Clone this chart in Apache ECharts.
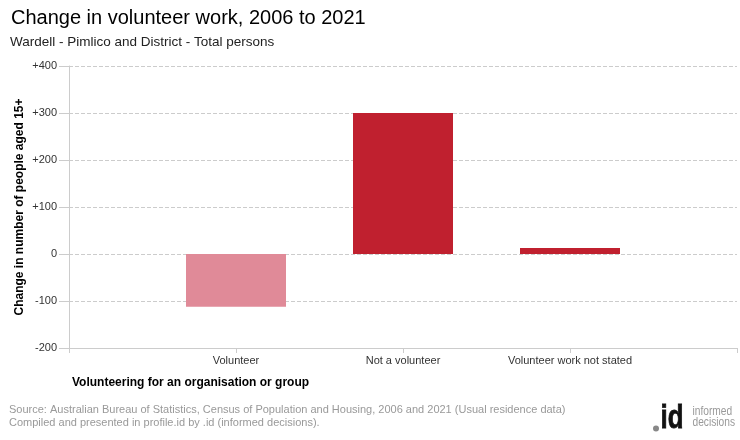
<!DOCTYPE html>
<html lang="en">
<head>
    <meta charset="UTF-8">
    <script src="https://cdn.jsdelivr.net/npm/echarts@6/dist/echarts.min.js"></script>
    <title>Change in volunteer work</title>
</head>
<body style="margin:0">
<div id="main" style="width: 740px;height:440px;"></div>

<script type="text/javascript">
    // categories (blank ends give the empty space either side, like the original)
    var categories = ['', 'Volunteer', 'Not a volunteer', 'Volunteer work not stated', ''];
    var changeValues = [null, -112, 300, 13, null];
    var barColors = ['#c0202f', '#e08a98', '#c0202f', '#c0202f', '#c0202f'];

    var myChart = echarts.init(document.getElementById('main'));
    var font = '"Liberation Sans", Arial, sans-serif';

    var option = {
        backgroundColor: '#fff',
        animation: false,
        textStyle: { fontFamily: font },
        title: [{
            text: 'Change in volunteer work, 2006 to 2021',
            left: 6, top: 3,
            textStyle: { fontSize: 20, fontWeight: 'normal', color: '#000', fontFamily: font }
        }, {
            text: 'Wardell - Pimlico and District - Total persons',
            left: 5, top: 30,
            textStyle: { fontSize: 13.5, fontWeight: 'normal', color: '#222', fontFamily: font }
        }],
        grid: { left: 69, right: 2, top: 66, bottom: 92 },
        xAxis: {
            type: 'category',
            data: categories,
            boundaryGap: false,
            axisLine: { onZero: false, lineStyle: { color: '#ccc' } },
            axisTick: { show: true, length: 5, lineStyle: { color: '#ccc' } },
            axisLabel: { fontSize: 11, color: '#333', margin: 7, fontFamily: font },
            splitLine: { show: false }
        },
        yAxis: {
            type: 'value',
            min: -200, max: 400, interval: 100,
            name: 'Change in number of people aged 15+',
            nameLocation: 'middle',
            nameGap: 43,
            nameMoveOverlap: false,
            nameRotate: 90,
            nameTextStyle: { fontSize: 12, fontWeight: 'bold', color: '#000', fontFamily: font },
            axisLine: { show: true, lineStyle: { color: '#ccc' } },
            axisTick: { show: true, length: 10, lineStyle: { color: '#ccc' } },
            axisLabel: {
                fontSize: 11, color: '#333', margin: 12, fontFamily: font,
                formatter: function (v) { return v > 0 ? '+' + v : String(v); }
            },
            splitLine: { lineStyle: { color: '#ccc', type: 'dashed' } }
        },
        series: [{
            type: 'bar',
            barWidth: 100,
            data: changeValues.map(function (v, i) {
                return { value: v, itemStyle: { color: barColors[i] } };
            })
        }],
        graphic: [{
            type: 'text', left: 72, top: 377,
            style: { text: 'Volunteering for an organisation or group', font: 'bold 12px ' + font, fill: '#000' }
        }, {
            type: 'text', left: 9, top: 403,
            style: {
                text: 'Source: Australian Bureau of Statistics, Census of Population and Housing, 2006 and 2021 (Usual residence data)\nCompiled and presented in profile.id by .id (informed decisions).',
                font: '11px ' + font, fill: '#999', lineHeight: 13
            }
        }, {
            // .id logo
            type: 'group', left: 653, top: 401,
            children: [{
                type: 'circle', shape: { cx: 3.5, cy: 27, r: 3 }, style: { fill: '#888' }
            }, {
                type: 'text', x: 8, y: 0, scaleX: 0.76,
                style: { text: 'id', font: 'bold 34px ' + font, fill: '#111', stroke: '#111', lineWidth: 0.8 }
            }, {
                type: 'text', x: 40, y: 5, scaleX: 0.85,
                style: { text: 'informed\ndecisions', font: '12px ' + font, fill: '#999', lineHeight: 11 }
            }]
        }]
    };

    myChart.setOption(option);
</script>
</body>
</html>
